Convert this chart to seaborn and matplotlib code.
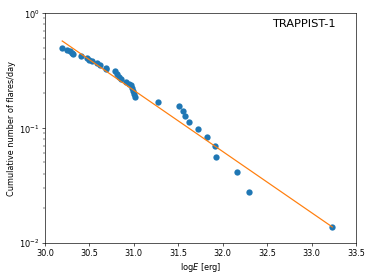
import numpy as np
import pandas as pd
import matplotlib; matplotlib.use("Agg")
import matplotlib.pyplot as plt
import seaborn as sns

# ── Data ──────────────────────────────────────────────────────────────────
log_energy = [30.195, 30.251, 30.281, 30.304, 30.318, 30.402, 30.469, 30.499,
              30.526, 30.589, 30.619, 30.683, 30.686, 30.784, 30.814, 30.829,
              30.855, 30.912, 30.942, 30.964, 30.979, 30.987, 30.998, 31.009,
              31.268, 31.505, 31.550, 31.576, 31.617, 31.718, 31.820, 31.916,
              31.924, 32.157, 32.296, 33.233]
cum_rate = [0.493, 0.477, 0.462, 0.446, 0.435, 0.423, 0.404, 0.390,
            0.380, 0.365, 0.353, 0.334, 0.328, 0.311, 0.294, 0.279,
            0.264, 0.252, 0.242, 0.234, 0.222, 0.209, 0.198, 0.184,
            0.169, 0.154, 0.140, 0.126, 0.112, 0.0977, 0.0834, 0.0696,
            0.0554, 0.0415, 0.0277, 0.0138]

# power-law fit: log10(rate) = FIT_A + FIT_B * logE
FIT_A = 15.85
FIT_B = -0.533

x_ticks = [30.0, 30.5, 31.0, 31.5, 32.0, 32.5, 33.0, 33.5]

df = pd.DataFrame({"logE": log_energy, "rate": cum_rate})
fit_x = np.array([min(log_energy), max(log_energy)])
fit_df = pd.DataFrame({"logE": fit_x, "rate": 10 ** (FIT_A + FIT_B * fit_x)})

# ── Plot ──────────────────────────────────────────────────────────────────
fig = plt.figure(figsize=(6.4, 4.8), dpi=374 / 6.4)
ax = fig.add_axes([0.120, 0.133, 0.832, 0.819])

sns.scatterplot(data=df, x="logE", y="rate", color="C0", s=60,
                linewidth=0, ax=ax, zorder=2)
sns.lineplot(data=fit_df, x="logE", y="rate", color="C1", lw=1.5,
             ax=ax, zorder=3)

ax.set_yscale("log")
ax.set_xlim(30.0, 33.5)
ax.set_ylim(1e-2, 1e0)
ax.set_xticks(x_ticks)
ax.set_xlabel(r"log$E$ [erg]")
ax.set_ylabel("Cumulative number of flares/day")
ax.text(0.935, 0.952, "TRAPPIST-1", transform=ax.transAxes,
        ha="right", va="center", fontsize=14)

fig.savefig("out.png", dpi=374 / 6.4)
